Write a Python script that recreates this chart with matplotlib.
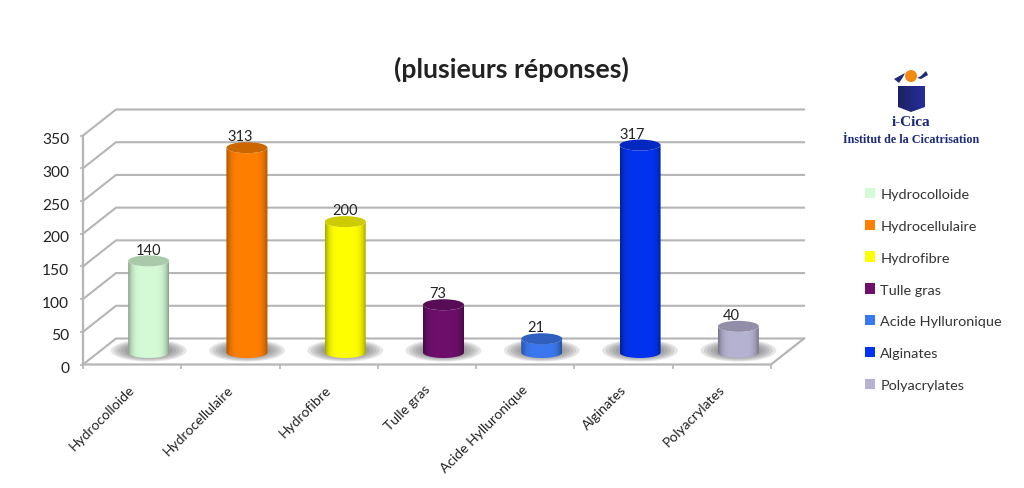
import numpy as np
import matplotlib
matplotlib.use("Agg")
import matplotlib.pyplot as plt
from matplotlib.patches import Ellipse, PathPatch, Polygon, Patch
from matplotlib.path import Path
from matplotlib.colors import to_rgb
from matplotlib.transforms import ScaledTranslation

categories = ["Hydrocolloide", "Hydrocellulaire", "Hydrofibre", "Tulle gras",
              "Acide Hylluronique", "Alginates", "Polyacrylates"]
values = [140, 313, 200, 73, 21, 317, 40]
colors = ["#d4fbd6", "#ff7f00", "#ffff00", "#6d0f6b", "#3b78f0", "#0433f0", "#b6b2d2"]
yticks = [0, 50, 100, 150, 200, 250, 300, 350]

W, H = 1024, 489
fig = plt.figure(figsize=(W / 100, H / 100), dpi=100, facecolor="white")
plt.rcParams["font.family"] = ["Lato", "Open Sans", "DejaVu Sans"]

# front plane of the 3D box, in pixels
L, R, Y0, Y1 = 83, 771, 365.5, 136.5
ax = fig.add_axes([L / W, 1 - Y0 / H, (R - L) / W, (Y0 - Y1) / H])
ax.set_xlim(-0.5, 6.5)
ax.set_ylim(0, 350)
ax.patch.set_alpha(0)
px_x = (R - L) / 7
px_y = (Y0 - Y1) / 350
DX = 33 / px_x      # depth in data units
DY = 26 / px_y
GRID = "#b5b5b5"

for s in ("top", "right", "bottom"):
    ax.spines[s].set_visible(False)
ax.spines["left"].set_color(GRID)
ax.spines["left"].set_linewidth(1.6)
ax.spines["left"].set_zorder(1)

# walls, floor
for v in yticks:
    ax.plot([-0.5, -0.5 + DX, 6.5 + DX], [v, v + DY, v + DY], color=GRID, lw=1.5,
            clip_on=False, zorder=1, solid_joinstyle="miter")
ax.plot([-0.5, 6.5, 6.5 + DX], [0, 0, DY], color=GRID, lw=1.6, clip_on=False, zorder=1)

ax.set_yticks(yticks)
ax.set_yticklabels([str(v) for v in yticks], fontsize=11.2, color="#222222")
ax.tick_params(axis="y", length=2, color=GRID, width=1.2, pad=8)
shift = ScaledTranslation(0, -1.5 / 72, fig.dpi_scale_trans)
for lab in ax.get_yticklabels():
    lab.set_transform(lab.get_transform() + shift)
ax.set_xticks(np.arange(-0.5, 7.0, 1.0))
ax.set_xticklabels([])
ax.tick_params(axis="x", length=3, color=GRID, width=1.2)

for i, name in enumerate(categories):
    ax.annotate(name, (i, 0), xytext=(0.5, -16), textcoords="offset points",
                rotation=45, rotation_mode="anchor", ha="right", va="center",
                fontsize=10, color="#222222", annotation_clip=False)

# cylinders
HALF_W = 20.5 / px_x
ELL_H = 5.5 / px_y
BASE = 12 / px_y
label_px = [0, -7, 0, -6, -6, -8, -7]

def shade(c, t):
    c = np.array(to_rgb(c))
    return c * t if t <= 1 else c + (1 - c) * (t - 1)

for i, (v, c) in enumerate(zip(values, colors)):
    cx = i + DX / 2
    # soft shadow on the floor
    for k in range(8):
        f = 1 - k / 11
        ax.add_patch(Ellipse((cx, BASE + 2 / px_y), 2 * HALF_W * 1.85 * f,
                             2 * 11 / px_y * f, fc="#666666", ec="none", alpha=0.17,
                             zorder=2, clip_on=False))
    top = BASE + v
    t = np.linspace(np.pi, 0, 30)
    bx = cx + HALF_W * np.cos(t)
    lower = BASE - ELL_H * np.sin(t)
    upper = top - ELL_H * np.sin(t)
    verts = np.r_[np.c_[bx, lower], np.c_[bx[::-1], upper[::-1]], [[bx[0], lower[0]]]]
    clip = PathPatch(Path(verts), fc="none", ec="none", transform=ax.transData)
    ax.add_patch(clip)
    u = np.linspace(-1, 1, 64)
    g = np.clip(np.abs(u) ** 5, 0, 1)
    rgb = np.array([shade(c, 1 - 0.35 * a) for a in g])[None, :, :]
    im = ax.imshow(rgb, extent=[cx - HALF_W, cx + HALF_W, BASE - ELL_H, top + ELL_H],
                   aspect="auto", zorder=3, interpolation="bilinear")
    im.set_clip_path(clip)
    ax.add_patch(Ellipse((cx, top), 2 * HALF_W, 2 * ELL_H, fc=shade(c, 0.8), ec="none",
                         zorder=4, clip_on=False))
    ax.annotate(str(v), (cx, top), xytext=(label_px[i] * 0.72, 8.2),
                textcoords="offset points", ha="center", va="center", fontsize=10.5,
                color="#222222", zorder=5, annotation_clip=False)

ax.set_xlim(-0.5, 6.5)
ax.set_ylim(0, 350)

fig.text(511 / W, 1 - 69 / H, "(plusieurs réponses)", ha="center", va="center",
         fontsize=19.2, fontweight="bold", color="#222222")

handles = [Patch(fc=c, ec="none", label=n) for n, c in zip(categories, colors)]
leg = fig.legend(handles=handles, loc="upper left", bbox_to_anchor=(859 / W, 1 - 183 / H),
                 bbox_transform=fig.transFigure, frameon=False, fontsize=10.4,
                 handlelength=0.72, handleheight=0.72, handletextpad=0.35,
                 labelspacing=1.36, borderpad=0.4, borderaxespad=0, labelcolor="#333333")

# logo, in a pixel-coordinate overlay
lg = fig.add_axes([0, 0, 1, 1], facecolor="none")
lg.set_xlim(0, W)
lg.set_ylim(H, 0)
lg.axis("off")
NAVY = "#1c2a78"
box = lg.imshow(np.linspace(0, 1, 32)[None, :, None] * np.array([0.05, 0.05, 0.2]) +
                np.array([0.1, 0.13, 0.4]), extent=[898, 925, 113, 87], aspect="auto", zorder=2)
clipb = Polygon([[898, 87], [925, 87], [925, 108], [911, 113], [898, 108]],
                transform=lg.transData, fc="none", ec="none")
lg.add_patch(clipb)
box.set_clip_path(clipb)
lg.add_patch(Polygon([[894, 80], [905, 74], [903, 78], [899, 84]], fc=NAVY, ec="none", zorder=3))
lg.add_patch(Polygon([[917, 79], [921, 77], [926, 72], [928, 76], [921, 80]], fc=NAVY, ec="none", zorder=3))
lg.add_patch(Ellipse((911, 77), 12, 12, fc="#f28a10", ec="none", zorder=4))
lg.set_xlim(0, W)
lg.set_ylim(H, 0)
lg.text(911, 122, "i-Cica", ha="center", va="center", family="Liberation Serif",
        fontweight="bold", fontsize=11, color=NAVY)
lg.text(911, 140, "İnstitut de la Cicatrisation", ha="center", va="center",
        family="Liberation Serif", fontweight="bold", fontsize=8.7, color=NAVY)

fig.savefig("out.png", dpi=100, facecolor="white")
